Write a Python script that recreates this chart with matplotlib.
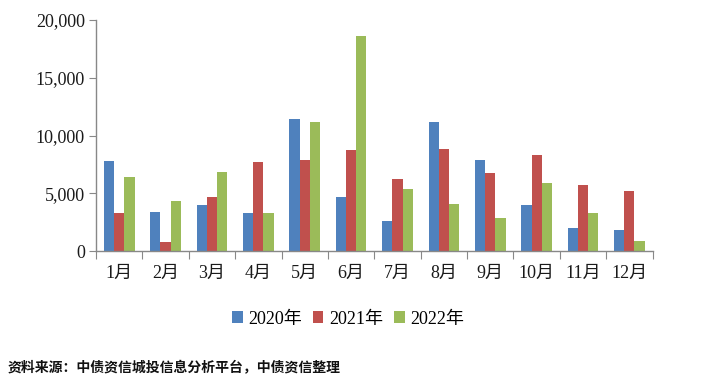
import matplotlib
matplotlib.use("Agg")
import matplotlib.pyplot as plt
import numpy as np
from matplotlib.ticker import FuncFormatter
from matplotlib.patches import Patch

months = ["1月", "2月", "3月", "4月", "5月", "6月", "7月", "8月", "9月", "10月", "11月", "12月"]
series_names = ["2020年", "2021年", "2022年"]
v2020 = [7800, 3380, 3980, 3320, 11430, 4680, 2600, 11140, 7880, 3950, 1990, 1790]
v2021 = [3260, 810, 4700, 7710, 7910, 8770, 6260, 8860, 6750, 8310, 5710, 5170]
v2022 = [6380, 4360, 6840, 3260, 11200, 18620, 5400, 4070, 2860, 5920, 3260, 900]
colors = ["#4F81BD", "#C0504D", "#9BBB59"]
source = "资料来源：中债资信城投信息分析平台，中债资信整理"

serif = ["Liberation Serif", "Noto Sans CJK SC"]

fig = plt.figure(figsize=(7.07, 3.90), dpi=100)
ax = fig.add_axes([0.1358, 0.356, 0.923 - 0.1358, 0.949 - 0.356])

x = np.arange(len(months))
w = 0.22
for i, (vals, c) in enumerate(zip([v2020, v2021, v2022], colors)):
    ax.bar(x + (i - 1) * w, vals, width=w, color=c, zorder=2)

ax.set_xlim(-0.5, len(months) - 0.5)
ax.set_ylim(0, 20000)
ax.set_yticks([0, 5000, 10000, 15000, 20000])
ax.yaxis.set_major_formatter(FuncFormatter(lambda v, p: f"{int(v):,}"))

ax.set_xticks(np.arange(-0.5, len(months) + 0.5, 1))
ax.set_xticklabels([])
ax.set_xticks(x, minor=True)
ax.set_xticklabels(months, minor=True)
ax.tick_params(axis="x", which="major", length=6, direction="out", color="#888888")
ax.tick_params(axis="x", which="minor", length=0, pad=10)
ax.tick_params(axis="y", length=5, direction="out", color="#888888", pad=3)

for lbl in ax.get_xticklabels(minor=True) + ax.get_yticklabels():
    lbl.set_fontfamily(serif)
    lbl.set_fontsize(13)
    lbl.set_color("#1a1a1a")

for s in ["top", "right"]:
    ax.spines[s].set_visible(False)
for s in ["left", "bottom"]:
    ax.spines[s].set_color("#888888")
    ax.spines[s].set_linewidth(1.0)

handles = [Patch(facecolor=c, edgecolor="none") for c in colors]
fig.legend(handles, series_names, loc="center", bbox_to_anchor=(0.492, 0.182), ncol=3,
           frameon=False, prop={"family": serif, "size": 13},
           handlelength=0.6, handleheight=0.6, handletextpad=0.3, columnspacing=0.6)

fig.text(0.011, 0.056, source, fontsize=10, fontweight="bold",
         family=["Noto Sans CJK SC", "DejaVu Sans"], va="center", ha="left", color="#111111")

fig.savefig("out.png", dpi=100)
